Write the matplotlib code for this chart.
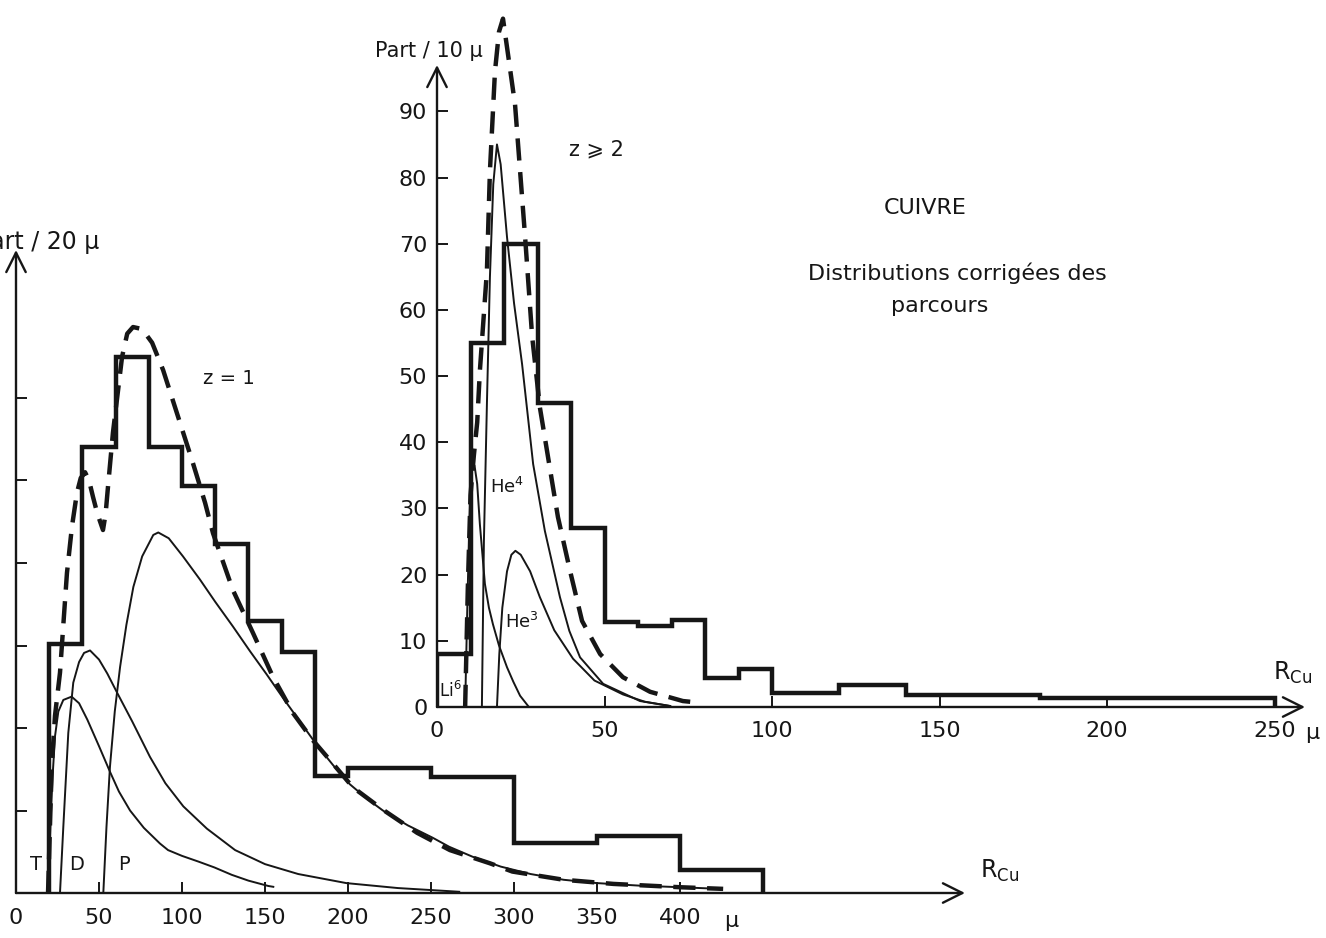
import matplotlib
matplotlib.use('Agg')
import matplotlib.pyplot as plt

plt.rcParams['font.family'] = ['DejaVu Sans', 'Noto Sans']
ink = '#161616'

# ---- z = 1 : Part / 20 mu ----
z1_edges = [20, 40, 60, 80, 100, 120, 140, 160, 180, 200, 250, 300, 350, 400, 450]
z1_counts = [30.2, 54, 65, 54, 49.3, 42.3, 33, 29.2, 14.2, 15.2, 14.1, 6.1, 6.9, 2.8]

t_r = [19.3, 20.5, 22, 23.5, 25.5, 28.5, 33.5, 38, 43, 50, 56.6, 62, 68.7, 77, 86.7,
       91.6, 100, 110, 119.5, 130, 140, 152, 155]
t_v = [0, 7, 14, 19, 22, 23.4, 23.8, 23, 21, 17.8, 14.7, 12.3, 10, 7.9, 6,
       5.2, 4.5, 3.8, 3.1, 2.2, 1.5, 0.85, 0.75]

d_r = [26.5, 28.5, 31.5, 34.5, 38, 41, 44.6, 50, 55, 60.6, 70, 80.7, 90, 100.8,
       115, 132, 150, 170, 199, 230, 267]
d_v = [0, 8, 19.4, 25.5, 28, 29.1, 29.4, 28.3, 26.6, 24.4, 20.8, 16.5, 13.3, 10.5,
       7.8, 5.2, 3.5, 2.3, 1.2, 0.6, 0.15]

p_r = [52.6, 54.5, 56.6, 59.5, 62.7, 66.5, 70.7, 76, 82.7, 85.7, 92, 100.6, 110.8,
       120, 130.7, 141, 151, 161, 171, 181, 191, 201, 211, 221, 236, 251, 261, 275,
       292, 310, 330, 350, 375, 400, 424]
p_v = [0, 8, 15.3, 22, 27.4, 32.5, 37.1, 40.8, 43.4, 43.7, 43, 40.8, 38, 35.3, 32.3,
       29.3, 26.5, 23.6, 20.8, 18, 15.5, 13.2, 11.5, 10, 8.2, 6.7, 5.6, 4.4, 3.2,
       2.3, 1.6, 1.2, 0.9, 0.7, 0.5]

sum1_r = [19.3, 20.3, 21.5, 23.5, 26.5, 28.3, 30.7, 33.7, 36.7, 39, 41.6, 44, 46.4,
          49, 52.4, 54, 55.4, 58.4, 60.8, 63.9, 67, 70.5, 75, 78, 82, 88.6, 98.8,
          106.6, 113.9, 118.7, 130.7, 142.8, 154.8, 166.9, 178.9, 190.4, 203, 221,
          241.6, 261.4, 285.5, 299, 330, 360, 400, 426]
sum1_v = [0, 7, 15.3, 21.5, 26.7, 31.9, 38.8, 44.4, 48.5, 50.3, 51, 50, 48, 46, 44,
          46, 49.2, 55.8, 59.8, 65, 67.8, 68.6, 68.4, 67.8, 66.7, 63.4, 57, 52.1,
          47.3, 43.6, 36.7, 31.5, 26.2, 21.8, 18.5, 15.8, 12.8, 10.1, 7.3, 5.2, 3.6,
          2.6, 1.6, 1.1, 0.7, 0.5]

x1_ticks = [0, 50, 100, 150, 200, 250, 300, 350, 400]

# ---- z >= 2 : Part / 10 mu ----
z2_edges = [0, 10, 20, 30, 40, 50, 60, 70, 80, 90, 100, 120, 140, 180, 250]
z2_counts = [8, 55, 70, 46, 27, 12.8, 12.2, 13.2, 4.4, 5.7, 2.1, 3.3, 1.8, 1.4]

li_r = [8.4, 9.0, 9.6, 10.0, 10.4, 11.2, 12, 12.8, 14.3, 15.5, 16.7, 18.5, 20.9,
        22.8, 24.8, 27.2]
li_v = [0, 14, 27, 33, 36.7, 36.5, 33.7, 27.6, 18.6, 15, 12.5, 9.3, 6, 3.8, 1.7, 0.15]

he4_r = [13.4, 14.0, 14.9, 15.8, 16.8, 17.9, 19, 20.9, 23, 25.4, 28.7, 32.2, 36.7,
         39.5, 42.7, 49.6, 60.6, 69.6]
he4_v = [0, 25, 45.8, 65, 79, 85, 82, 71, 61, 51.8, 36.7, 26.6, 16.6, 11.5, 7.5,
         3.5, 0.9, 0.15]

he3_r = [17.9, 18.6, 19.5, 20.9, 22.2, 23.4, 25, 27.8, 30.7, 35, 40.6, 47, 55.5,
         62, 69.6]
he3_v = [0, 8, 15, 20.5, 23, 23.6, 23, 20.5, 16.6, 11.6, 7.3, 4, 1.9, 0.8, 0.15]

sum2_r = [8.4, 9.2, 10, 11, 12, 12.8, 14.9, 15.8, 17.3, 18.5, 19.7, 21.2, 23.3,
          24.8, 26.3, 28.4, 30.7, 34.3, 36.1, 39.7, 43.3, 48.7, 55.5, 63.6, 73.4, 76.4]
sum2_v = [0, 18, 32, 38, 43, 50.8, 65.9, 81, 96, 102, 104, 98.6, 91, 81, 71, 56,
          45.3, 34.2, 28.7, 20.6, 13, 8, 4.5, 2.3, 0.9, 0.75]

x2_ticks = [0, 50, 100, 150, 200, 250]
y2_ticks = [0, 10, 20, 30, 40, 50, 60, 70, 80, 90]

W, H = 1326, 938
fig = plt.figure(figsize=(W / 100, H / 100), dpi=100)
fig.patch.set_facecolor('white')


def fpos(x, y):
    return x / W, 1 - y / H


def arrows(ax):
    for end in [(1, 0), (0, 1)]:
        ax.annotate('', xy=end, xytext=(0, 0), xycoords='axes fraction',
                    textcoords='axes fraction', annotation_clip=False,
                    arrowprops=dict(arrowstyle='->,head_length=0.7,head_width=0.35',
                                    lw=1.7, color=ink, shrinkA=0, shrinkB=0,
                                    mutation_scale=20))


def frame(ax):
    ax.set_facecolor('none')
    for s in ax.spines.values():
        s.set_visible(False)
    ax.tick_params(direction='in', length=8, width=1.4, colors=ink, labelsize=16)
    arrows(ax)


dash = (0, (5, 2.6))

# left panel, z = 1
ax1 = fig.add_axes([16 / W, 1 - 893 / H, 949 / W, 643 / H])
frame(ax1)
ax1.set_xlim(0, 949 / 1.66)
ax1.set_ylim(0, 643 / 8.25)
ax1.set_xticks(x1_ticks)
ax1.set_xticklabels([str(t) for t in x1_ticks])
ax1.tick_params(axis='x', pad=11)
ax1.set_yticks([10, 20, 30, 40, 50, 60])
ax1.tick_params(axis='y', labelleft=False)

ax1.stairs(z1_counts, z1_edges, baseline=0, color=ink, lw=3.2)
for r, v in [(t_r, t_v), (d_r, d_v), (p_r, p_v)]:
    ax1.plot(r, v, color=ink, lw=1.4, clip_on=False)
ax1.plot(sum1_r, sum1_v, color=ink, lw=3.2, linestyle=dash, clip_on=False)

# right panel, z >= 2
ax2 = fig.add_axes([437 / W, 1 - 707 / H, 868 / W, 642 / H])
frame(ax2)
ax2.set_xlim(0, 868 / 3.35)
ax2.set_ylim(0, 97)
ax2.set_xticks(x2_ticks)
ax2.set_xticklabels([str(t) for t in x2_ticks])
ax2.set_yticks(y2_ticks)
ax2.tick_params(axis='x', pad=10)
ax2.tick_params(axis='y', pad=7)
ax2.yaxis.get_major_ticks()[0].tick1line.set_visible(False)
ax2.xaxis.get_major_ticks()[0].tick1line.set_visible(False)

ax2.stairs(z2_counts, z2_edges, baseline=0, color=ink, lw=3.2)
for r, v in [(li_r, li_v), (he4_r, he4_v), (he3_r, he3_v)]:
    ax2.plot(r, v, color=ink, lw=1.4, clip_on=False)
ax2.plot(sum2_r, sum2_v, color=ink, lw=3.2, linestyle=dash, clip_on=False)

# labels (the left axis title runs past the page edge)
kw = dict(color=ink)
fig.text(*fpos(99, 249), 'Part / 20 \u03bc', ha='right', va='baseline', fontsize=17, **kw)
fig.text(*fpos(483, 57), 'Part / 10 \u03bc', ha='right', va='baseline', fontsize=15, **kw)
fig.text(*fpos(229, 378), 'z = 1', ha='center', va='center', fontsize=14, **kw)
fig.text(*fpos(596, 149), 'z \u2a7e 2', ha='center', va='center', fontsize=15, **kw)
fig.text(*fpos(925, 208), 'CUIVRE', ha='center', va='center', fontsize=16, **kw)
fig.text(*fpos(957, 273), 'Distributions corrigées des', ha='center', va='center',
         fontsize=16, **kw)
fig.text(*fpos(940, 306), 'parcours', ha='center', va='center', fontsize=16, **kw)

fig.text(*fpos(36, 864), 'T', ha='center', va='center', fontsize=14, **kw)
fig.text(*fpos(77, 864), 'D', ha='center', va='center', fontsize=14, **kw)
fig.text(*fpos(124, 864), 'P', ha='center', va='center', fontsize=14, **kw)

fig.text(*fpos(490, 493), r'He$^{4}$', ha='left', va='baseline', fontsize=13, **kw)
fig.text(*fpos(505, 628), r'He$^{3}$', ha='left', va='baseline', fontsize=13, **kw)
fig.text(*fpos(439, 697), r'Li$^{6}$', ha='left', va='baseline', fontsize=12, **kw)

fig.text(*fpos(980, 878), r'R$_{\mathregular{Cu}}$', ha='left', va='baseline', fontsize=17, **kw)
fig.text(*fpos(1273, 680), r'R$_{\mathregular{Cu}}$', ha='left', va='baseline', fontsize=17, **kw)

fig.text(*fpos(731, 921), '\u03bc', ha='center', va='center', fontsize=16, **kw)
fig.text(*fpos(1312, 733), '\u03bc', ha='center', va='center', fontsize=16, **kw)

fig.savefig('out.png', dpi=100, facecolor='white')
